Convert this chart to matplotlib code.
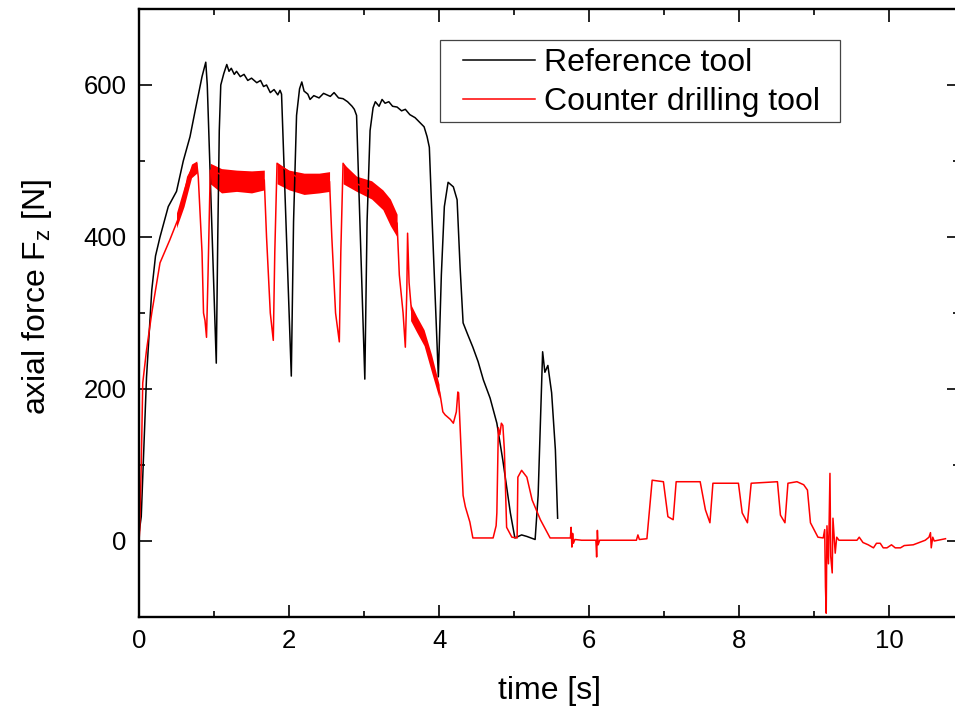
import matplotlib
matplotlib.use("Agg")
import matplotlib.pyplot as plt
from matplotlib.patches import Rectangle
from matplotlib.ticker import MultipleLocator

plt.rcParams['font.family'] = ['Liberation Sans', 'DejaVu Sans']
plt.rcParams['mathtext.fontset'] = 'custom'
plt.rcParams['mathtext.rm'] = 'Liberation Sans'

# reference tool (black)
ref_t = [0.0, 0.03, 0.1, 0.17, 0.22, 0.28, 0.39, 0.5, 0.59, 0.68, 0.75, 0.84, 0.89, 0.91,
         1.03, 1.05, 1.07, 1.09, 1.13, 1.17, 1.2, 1.23, 1.27, 1.3, 1.35, 1.4, 1.45, 1.5,
         1.57, 1.62, 1.66, 1.7, 1.75, 1.8, 1.85, 1.88, 1.9,
         2.03, 2.06, 2.1, 2.14, 2.17, 2.2, 2.25, 2.28, 2.33, 2.4, 2.46, 2.55, 2.6, 2.66,
         2.72, 2.78, 2.84, 2.87, 2.9,
         3.01, 3.04, 3.08, 3.12, 3.15, 3.2, 3.24, 3.28, 3.33, 3.38, 3.44, 3.5, 3.55, 3.61,
         3.68, 3.75, 3.8, 3.84, 3.87, 3.9,
         3.99, 4.03, 4.07, 4.12, 4.19, 4.24, 4.28, 4.32, 4.38, 4.45, 4.52, 4.59, 4.68, 4.77,
         4.85, 4.95, 5.01, 5.1, 5.17, 5.28, 5.32, 5.38, 5.41, 5.45, 5.5, 5.55, 5.58]
ref_f = [10, 32, 215, 330, 375, 400, 440, 460, 500, 532, 567, 611, 630, 600,
         234, 400, 540, 600, 615, 627, 618, 622, 614, 618, 611, 614, 606, 609,
         603, 606, 598, 600, 590, 594, 587, 593, 588,
         217, 420, 560, 595, 604, 592, 588, 581, 586, 583, 589, 585, 590, 583,
         582, 578, 572, 568, 560,
         213, 420, 540, 570, 578, 572, 581, 576, 578, 572, 571, 566, 568, 561,
         557, 550, 545, 532, 518, 440,
         216, 350, 440, 472, 466, 449, 360, 287, 272, 255, 236, 212, 188, 155,
         106, 37, 4, 8, 6, 2, 60, 249, 222, 231, 195, 120, 30]

# counter drilling tool (red)
cnt_t = [0.0, 0.01, 0.03, 0.05, 0.1, 0.17, 0.28, 0.41, 0.55, 0.65, 0.72, 0.77, 0.79, 0.84,
         0.86, 0.88, 0.9, 0.92, 0.95, 1.3, 1.67, 1.7, 1.75, 1.79, 1.81, 1.84, 2.2, 2.54,
         2.57, 2.62, 2.67, 2.69, 2.72, 2.9, 3.1, 3.25, 3.35, 3.44, 3.47, 3.52, 3.55, 3.57,
         3.58, 3.6, 3.63, 3.65, 3.72, 3.79, 3.85, 3.92, 4.01, 4.05, 4.08, 4.15, 4.19, 4.23,
         4.25, 4.26, 4.28, 4.32, 4.35, 4.41, 4.45, 4.72, 4.76, 4.77, 4.79, 4.81, 4.83, 4.85,
         4.87, 4.9, 4.97, 5.04, 5.05, 5.1, 5.17, 5.24, 5.35, 5.48, 5.75, 5.76, 5.77, 5.78,
         5.79, 5.81, 5.9, 6.09, 6.1, 6.11, 6.12, 6.14, 6.63, 6.65, 6.67, 6.77, 6.84, 6.99,
         7.05, 7.12, 7.16, 7.48, 7.55, 7.61, 7.65, 7.99, 8.04, 8.11, 8.16, 8.51, 8.55, 8.61,
         8.65, 8.77, 8.86, 8.91, 8.95, 9.05, 9.12, 9.14, 9.15, 9.16, 9.17, 9.19, 9.21, 9.22,
         9.24, 9.25, 9.28, 9.3, 9.33, 9.57, 9.6, 9.65, 9.72, 9.79, 9.83, 9.88, 9.92, 9.97,
         10.03, 10.08, 10.15, 10.2, 10.32, 10.4, 10.48, 10.53, 10.55, 10.56, 10.58, 10.6, 10.75]
cnt_f = [0, 14, 100, 208, 251, 300, 366, 396, 431, 479, 492, 497, 479, 380,
         300, 290, 268, 350, 488, 474, 475, 400, 300, 264, 380, 497, 472, 473,
         400, 300, 262, 380, 497, 470, 462, 450, 432, 418, 350, 300, 255, 330,
         405, 340, 305, 295, 285, 274, 255, 229, 195, 170, 166, 160, 155, 170,
         196, 195, 150, 60, 45, 25, 4, 4, 20, 37, 149, 140, 155, 152,
         120, 18, 5, 4, 84, 93, 84, 54, 28, 4, 4, 18, -8, 10,
         -3, 2, 1, 1, -21, 14, -5, 1, 1, 8, 2, 3, 80, 78,
         32, 28, 78, 78, 41, 24, 76, 76, 37, 24, 76, 78, 34, 24,
         76, 78, 74, 67, 24, 5, 4, 15, -60, -95, 20, -30, 89, -20,
         -42, 30, -16, 5, 1, 1, 5, -2, -5, -9, -3, -3, -9, -9,
         -5, -9, -9, -6, -5, -2, 1, 5, 11, -9, 5, 0, 3]

# noisy red stretches: envelope of the noise band
band_t = [[0.5, 0.6, 0.7, 0.77],
          [0.95, 1.1, 1.3, 1.5, 1.67],
          [1.84, 2.0, 2.2, 2.4, 2.54],
          [2.72, 2.9, 3.1, 3.25, 3.35, 3.44],
          [3.62, 3.7, 3.8, 3.9, 4.0]]
band_lo = [[412, 440, 478, 484],
           [470, 458, 460, 458, 462],
           [470, 462, 456, 458, 460],
           [470, 460, 450, 436, 415, 400],
           [290, 275, 257, 222, 188]]
band_hi = [[432, 466, 496, 500],
           [497, 490, 488, 487, 488],
           [497, 488, 484, 484, 486],
           [497, 480, 474, 462, 450, 430],
           [312, 296, 278, 245, 206]]

fig = plt.figure(figsize=(9.55, 7.09), dpi=100)
ax = fig.add_axes([139/955, 1 - 617/709, 820/955, 608/709])

ax.plot(ref_t, ref_f, color='black', lw=1.1, label='Reference tool')
ax.plot(cnt_t, cnt_f, color='red', lw=1.1, label='Counter drilling tool')
for bt, lo, hi in zip(band_t, band_lo, band_hi):
    ax.fill_between(bt, lo, hi, color='red', lw=0)

ax.set_xlim(0, 10.93)
ax.set_ylim(-100, 700)
ax.xaxis.set_major_locator(MultipleLocator(2))
ax.xaxis.set_minor_locator(MultipleLocator(1))
ax.yaxis.set_major_locator(MultipleLocator(200))
ax.yaxis.set_minor_locator(MultipleLocator(100))
ax.tick_params(which='both', direction='in', top=True, right=True, width=1.2,
               labelsize=18.5)
ax.tick_params(which='major', length=9)
ax.tick_params(which='minor', length=4)
ax.tick_params(axis='x', pad=9)
ax.tick_params(axis='y', pad=9)
for s in ax.spines.values():
    s.set_linewidth(1.7)

ax.set_xlabel('time [s]', fontsize=23, labelpad=16)
ax.set_ylabel(r'axial force F$_\mathregular{z}$ [N]', fontsize=23)
ax.yaxis.set_label_coords(-0.104, 0.526)

# legend box drawn separately so its inner margins match the original
ax.add_patch(Rectangle((0.367, 0.814), 0.488, 0.135, transform=ax.transAxes,
                       facecolor='white', edgecolor='#444444', lw=0.9, zorder=4))
leg = ax.legend(loc='upper left', bbox_to_anchor=(0.385, 0.949), borderaxespad=0,
                fontsize=23, frameon=False,
                handlelength=2.25, handletextpad=0.3, labelspacing=0.28,
                borderpad=0.25)
leg.set_zorder(5)

fig.savefig('out.png', dpi=100)
